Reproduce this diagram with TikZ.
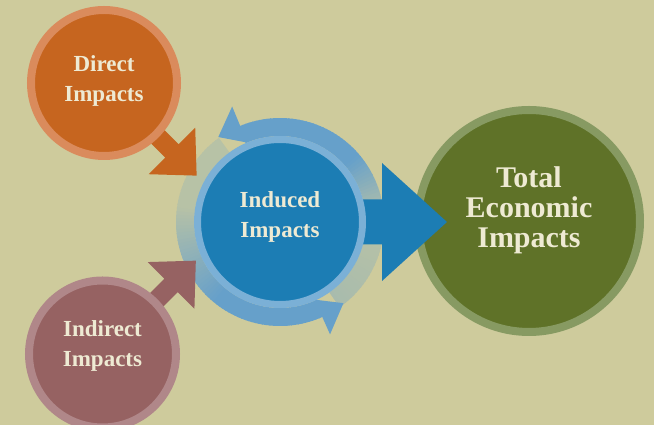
\documentclass[tikz,border=0pt]{standalone}
\usepackage{fontspec}
\setmainfont{Liberation Serif}
\usetikzlibrary{calc,backgrounds}

\definecolor{paper}{HTML}{CECB9C}
\definecolor{directfill}{HTML}{C6651F}
\definecolor{directring}{HTML}{DA8B5C}
\definecolor{indirectfill}{HTML}{966262}
\definecolor{indirectring}{HTML}{B08789}
\definecolor{inducedfill}{HTML}{1C7DB4}
\definecolor{inducedring}{HTML}{7BB0D6}
\definecolor{bandblue}{HTML}{66A0CA}
\definecolor{totalfill}{HTML}{5F7228}
\definecolor{totalring}{HTML}{879A62}
\definecolor{cream}{HTML}{EEEAD3}

\pgfdeclarelayer{back}
\pgfdeclarelayer{front}
\pgfsetlayers{back,main,front}

\tikzset{
  disc/.style={circle, inner sep=0pt, line width=8pt},
  lbl/.style={align=center, text=cream, anchor=base,
    font=\fontsize{23}{30}\selectfont\bfseries},
}

\begin{document}
\begin{tikzpicture}[x=1pt,y=1pt]
  \useasboundingbox (0,0) rectangle (654,425);

  \node[disc, fill=directfill, draw=directring, minimum size=146pt] (direct) at (104,342) {};
  \node[disc, fill=indirectfill, draw=indirectring, minimum size=147pt] (indirect) at (102.5,71) {};
  \node[disc, fill=totalfill, draw=totalring, minimum size=222pt] (total) at (529,204) {};
  \begin{pgfonlayer}{front}
    \node[disc, line width=7pt, fill=inducedfill, draw=inducedring, minimum size=165pt] (induced) at (280,203) {};
  \end{pgfonlayer}

  % big arrow into the total
  \begin{scope}[shift={(induced.center)}]
    \fill[inducedfill] (0,-22.5) -- (102,-22.5) -- (102,-59) -- (167,0)
      -- (102,59) -- (102,22.5) -- (0,22.5) -- cycle;
  \end{scope}

  \begin{pgfonlayer}{back}
    \fill[paper] (0,0) rectangle (654,425);
    % circular band round the induced circle
    \begin{scope}[shift={(induced.center)}]
      \foreach \a in {-55,-53,...,111} {
        \pgfmathsetmacro\p{\a>=40 ? 100 : (\a>=0 ? 20+2*\a : 20-0.3*(\a))}
        \fill[bandblue!\p!paper] (\a:86) arc[start angle=\a, end angle={\a+2.5}, radius=86]
          -- ({\a+2.5}:104) arc[start angle={\a+2.5}, end angle=\a, radius=104] -- cycle;
      }
      \foreach \a in {126,128,...,292} {
        \pgfmathsetmacro\p{\a<170 ? 22 : (\a<230 ? 22+78*(\a-170)/60 : 100)}
        \fill[bandblue!\p!paper] (\a:86) arc[start angle=\a, end angle={\a+2.5}, radius=86]
          -- ({\a+2.5}:104) arc[start angle={\a+2.5}, end angle=\a, radius=104] -- cycle;
      }
      \fill[bandblue] (112.5:86) -- (112.5:125) -- (126:105) -- cycle;
      \fill[bandblue] (-66:85) -- (-66:123) -- (-52:103) -- cycle;
    \end{scope}
    \fill[directfill, shift={(direct.center)}, rotate=-45] (40,-9.5) -- (96,-9.5)
      -- (96,-33) -- (131,0) -- (96,33) -- (96,9.5) -- (40,9.5) -- cycle;
    \fill[indirectfill, shift={(indirect.center)}, rotate=45] (40,-9.5) -- (97,-9.5)
      -- (97,-33) -- (132,0) -- (97,33) -- (97,9.5) -- (40,9.5) -- cycle;
  \end{pgfonlayer}

  \begin{pgfonlayer}{front}
    \node[lbl] (direct-lbl) at ($(direct)+(0,-19)$) {Direct\\Impacts};
    \node[lbl] (indirect-lbl) at ($(indirect)+(0,-13)$) {Indirect\\Impacts};
    \node[lbl] (induced-lbl) at ($(induced)+(0,-16)$) {Induced\\Impacts};
    \node[lbl, font=\fontsize{30}{30}\selectfont\bfseries] (total-lbl)
      at ($(total)+(0,-27)$) {Total\\Economic\\Impacts};
  \end{pgfonlayer}
\end{tikzpicture}
\end{document}
